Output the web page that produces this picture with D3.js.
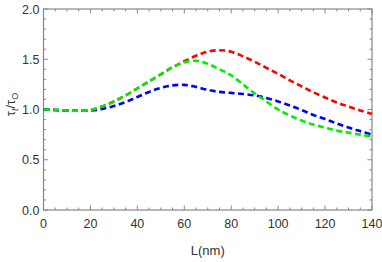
<!DOCTYPE html>
<html>
<head>
<meta charset="utf-8">
<script src="https://cdn.jsdelivr.net/npm/d3@7"></script>
<style>
  body { margin: 0; background: #fff; }
  text { font-family: "Liberation Sans Narrow", "Liberation Sans", Arial, sans-serif; fill: #333; }
</style>
</head>
<body>
<div id="chart"></div>
<script>
const WIDTH = 382;
const HEIGHT = 262;
const MARGINS = { TOP: 9, LEFT: 43.5, BOTTOM: 52, RIGHT: 10 };

const lengths = [0, 5, 10, 15, 20, 25, 30, 35, 40, 45, 50, 55, 60, 65, 70, 75, 80, 85, 90, 95, 100, 105, 110, 115, 120, 125, 130, 135, 140];
const redValues = [1.00, 0.995, 0.99, 0.987, 0.995, 1.03, 1.08, 1.14, 1.21, 1.28, 1.35, 1.42, 1.48, 1.535, 1.575, 1.59, 1.575, 1.53, 1.475, 1.415, 1.355, 1.29, 1.23, 1.17, 1.12, 1.07, 1.03, 0.99, 0.955];
const greenValues = [1.00, 0.995, 0.99, 0.987, 0.995, 1.03, 1.08, 1.14, 1.21, 1.28, 1.35, 1.42, 1.47, 1.485, 1.455, 1.40, 1.34, 1.25, 1.16, 1.08, 1.00, 0.94, 0.89, 0.85, 0.82, 0.79, 0.77, 0.75, 0.73];
const blueValues = [1.00, 0.995, 0.99, 0.987, 0.99, 1.005, 1.035, 1.075, 1.125, 1.175, 1.215, 1.24, 1.245, 1.225, 1.195, 1.175, 1.165, 1.155, 1.14, 1.115, 1.08, 1.04, 0.995, 0.945, 0.905, 0.86, 0.82, 0.785, 0.75];
const xTicks = [0, 20, 40, 60, 80, 100, 120, 140];
const yTicks = [0.0, 0.5, 1.0, 1.5, 2.0];

const series = [
    { values: redValues, color: '#ff0000' },
    { values: blueValues, color: '#0000ff' },
    { values: greenValues, color: '#00ee00' }
];

const innerW = WIDTH - MARGINS.LEFT - MARGINS.RIGHT;
const innerH = HEIGHT - MARGINS.TOP - MARGINS.BOTTOM;

const x = d3.scaleLinear().domain([0, 140]).range([MARGINS.LEFT, MARGINS.LEFT + innerW]);
const y = d3.scaleLinear().domain([0, 2]).range([MARGINS.TOP + innerH, MARGINS.TOP]);

const svg = d3.select('#chart')
    .append('svg')
    .attr('width', WIDTH)
    .attr('height', HEIGHT);

// frame
svg.append('rect')
    .attr('x', x(0)).attr('y', y(2))
    .attr('width', innerW).attr('height', innerH)
    .attr('fill', 'none').attr('stroke', '#888').attr('stroke-width', 1.2);

// ticks on all sides, pointing in
const xMinor = d3.range(0, 141, 5);
const yMinor = d3.range(0, 2.001, 0.1);
const tickG = svg.append('g').attr('stroke', '#888').attr('stroke-width', 1);

xMinor.forEach(v => {
    const len = v % 20 === 0 ? 4.5 : 2.5;
    tickG.append('line').attr('x1', x(v)).attr('x2', x(v)).attr('y1', y(0)).attr('y2', y(0) - len);
    tickG.append('line').attr('x1', x(v)).attr('x2', x(v)).attr('y1', y(2)).attr('y2', y(2) + len);
});
yMinor.forEach(v => {
    const major = Math.abs(v * 2 - Math.round(v * 2)) < 1e-6;
    const len = major ? 4.5 : 2.5;
    tickG.append('line').attr('x1', x(0)).attr('x2', x(0) + len).attr('y1', y(v)).attr('y2', y(v));
    tickG.append('line').attr('x1', x(140)).attr('x2', x(140) - len).attr('y1', y(v)).attr('y2', y(v));
});

// tick labels
svg.append('g').selectAll('text')
    .data(xTicks).enter().append('text')
    .attr('x', d => x(d)).attr('y', y(0) + 18)
    .attr('text-anchor', 'middle').attr('font-size', 12.5)
    .text(d => d);

svg.append('g').selectAll('text')
    .data(yTicks).enter().append('text')
    .attr('x', x(0) - 4).attr('y', d => y(d) + 4.5)
    .attr('text-anchor', 'end').attr('font-size', 12.5)
    .text(d => d.toFixed(1));

// curves
const line = d3.line()
    .x((d, i) => x(lengths[i]))
    .y(d => y(d))
    .curve(d3.curveCatmullRom);

series.forEach(s => {
    svg.append('path')
        .datum(s.values)
        .attr('d', line)
        .attr('fill', 'none')
        .attr('stroke', s.color)
        .attr('stroke-width', 2.6)
        .attr('stroke-dasharray', '6,3.5');
});

// axis titles
svg.append('text')
    .attr('x', x(70)).attr('y', 255)
    .attr('text-anchor', 'middle').attr('font-size', 13)
    .text('L(nm)');

const yl = svg.append('text')
    .attr('transform', `translate(15, ${y(1.05)}) rotate(-90)`)
    .attr('text-anchor', 'middle').attr('font-size', 13);
yl.append('tspan').text('τ');
yl.append('tspan').attr('font-size', 9).attr('dy', 3).attr('font-style', 'italic').text('t');
yl.append('tspan').attr('dy', -3).text('/τ');
yl.append('tspan').attr('font-size', 9).attr('dy', 3).text('O');
</script>
</body>
</html>
